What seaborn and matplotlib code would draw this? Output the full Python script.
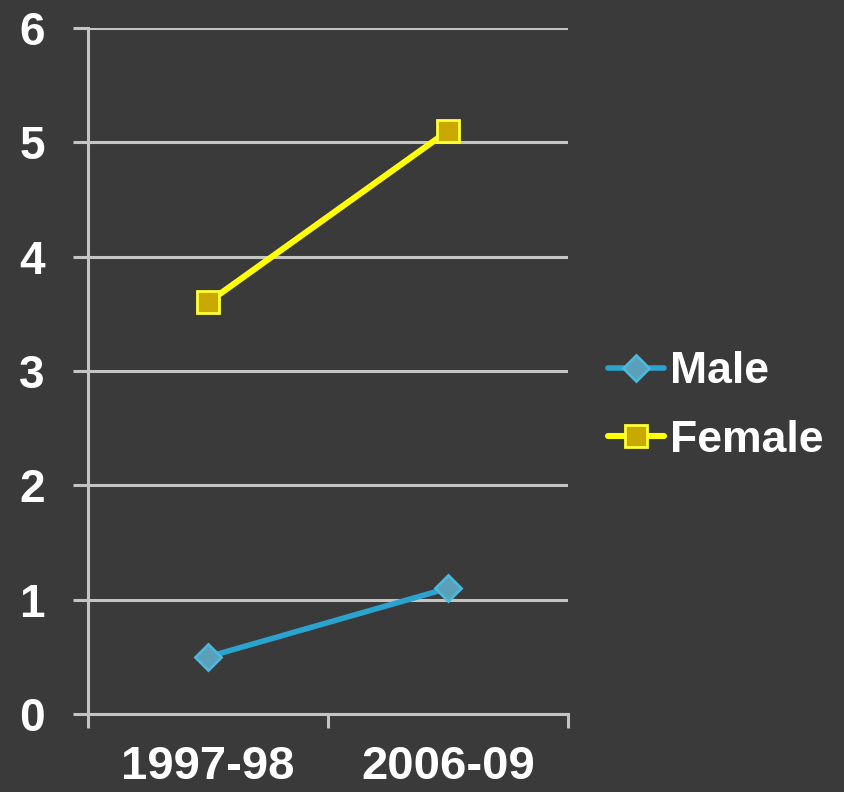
import matplotlib
matplotlib.use("Agg")
import matplotlib.pyplot as plt
from matplotlib.lines import Line2D
import pandas as pd
import seaborn as sns

periods = ["1997-98", "2006-09"]
male = [0.5, 1.1]
female = [3.6, 5.1]
y_ticks = [0, 1, 2, 3, 4, 5, 6]

bg = "#3a3a3a"
grid_col = "#c4c4c4"
male_line, male_face, male_edge = "#2ba3cf", "#5b9fb8", "#4cb8dc"
female_line, female_face, female_edge = "#ffff00", "#c9a800", "#ffff33"

sns.set_theme(style="dark")
plt.rcParams["font.family"] = ["Liberation Sans", "DejaVu Sans"]
plt.rcParams["font.weight"] = "bold"

df = pd.DataFrame({
    "period": periods * 2,
    "value": male + female,
    "sex": ["Male"] * len(periods) + ["Female"] * len(periods),
})

fig = plt.figure(figsize=(8.44, 7.92), dpi=100, facecolor=bg)
ax = fig.add_axes([88 / 844, 1 - 714 / 792, (568 - 88) / 844, (714 - 28) / 792])
ax.set_facecolor(bg)

sns.lineplot(data=df, x="period", y="value", hue="sex", style="sex",
             palette={"Male": male_line, "Female": female_line},
             markers={"Male": "D", "Female": "s"}, dashes=False,
             linewidth=4.2, markersize=14, legend=False, ax=ax, zorder=3)

styles = {
    "Male": (male_line, male_face, male_edge, "D", 13, 4.0),
    "Female": (female_line, female_face, female_edge, "s", 16, 4.4),
}
for line, name in zip(ax.lines, ["Male", "Female"]):
    lc, fc, ec, mk, ms, lw = styles[name]
    line.set_linewidth(lw)
    line.set_markerfacecolor(fc)
    line.set_markeredgecolor(ec)
    line.set_markeredgewidth(2.0)
    line.set_markersize(ms)
    line.set_clip_on(False)

ax.set_xlim(-0.5, len(periods) - 0.5)
ax.set_ylim(0, 6)
ax.set_yticks(y_ticks)
ax.set_yticklabels([str(t) for t in y_ticks])
ax.set_xticks([i - 0.5 for i in range(len(periods) + 1)])
ax.set_xticklabels([])
ax.set_xticks(range(len(periods)), minor=True)
ax.set_xticklabels(periods, minor=True)
ax.set_xlabel("")
ax.set_ylabel("")

ax.grid(False)
ax.yaxis.grid(True, color=grid_col, linewidth=2.2, zorder=0)
ax.set_axisbelow(True)
for side in ("top", "right"):
    ax.spines[side].set_visible(False)
for side in ("left", "bottom"):
    ax.spines[side].set_color(grid_col)
    ax.spines[side].set_linewidth(2.2)

ax.tick_params(axis="y", which="major", length=11, width=2.2, color=grid_col,
               direction="out", left=True, labelsize=33, labelcolor="white", pad=20)
ax.tick_params(axis="x", which="major", length=10, width=2.2, color=grid_col,
               direction="out", bottom=True)
ax.tick_params(axis="x", which="minor", length=0, labelsize=34,
               labelcolor="white", pad=22)
for lbl in ax.get_yticklabels() + ax.get_xticklabels(minor=True):
    lbl.set_fontweight("bold")

handles = [
    Line2D([], [], color=male_line, linewidth=4.0, marker="D", markersize=13,
           markerfacecolor=male_face, markeredgecolor=male_edge, markeredgewidth=2.0),
    Line2D([], [], color=female_line, linewidth=4.4, marker="s", markersize=16,
           markerfacecolor=female_face, markeredgecolor=female_edge, markeredgewidth=2.0),
]
leg = fig.legend(handles, ["Male", "Female"], loc="center left",
                 bbox_to_anchor=(568 / 844, 1 - 406 / 792), frameon=False,
                 handlelength=1.27, handletextpad=0.12, labelspacing=0.62,
                 prop={"size": 32, "weight": "bold"})
for t in leg.get_texts():
    t.set_color("white")

fig.savefig("out.png", dpi=100, facecolor=bg)
